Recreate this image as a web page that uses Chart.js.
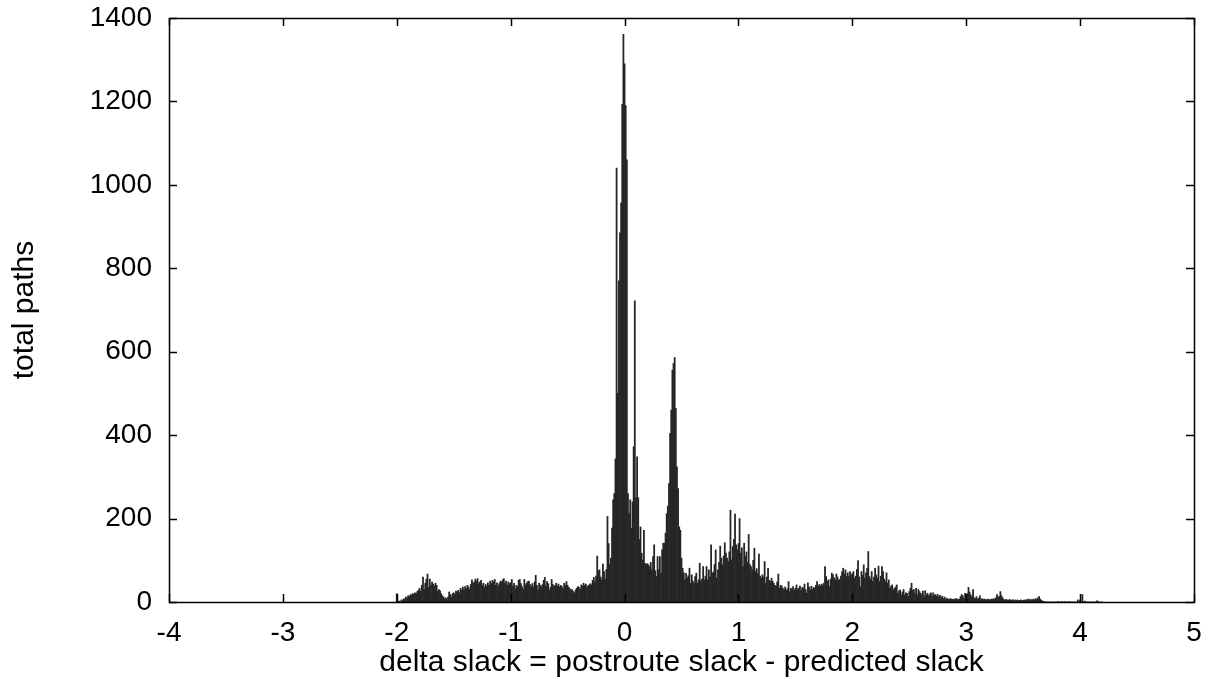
<!DOCTYPE html>
<html>
<head>
<meta charset="utf-8">
<title>delta slack histogram</title>
<script src="https://cdn.jsdelivr.net/npm/chart.js@4.4.1/dist/chart.umd.min.js"></script>
<style>
  html, body { margin: 0; padding: 0; background: #fff; }
  canvas { display: block; }
</style>
</head>
<body>
<canvas id="histChart" width="1212" height="679"></canvas>
<script>
// histogram bins: first bin centre and bin width (delta slack units)
const binStart = -2.0;
const binWidth = 0.01;

// path counts per bin, one row = 0.1 of delta slack
const counts = [
  20, 0, 2, 0, 5, 3, 8, 6, 12, 10,            // -2.0
  15, 13, 18, 16, 20, 19, 22, 20, 25, 28,     // -1.9
  33, 26, 40, 60, 30, 45, 55, 67, 35, 55,     // -1.8
  40, 48, 43, 38, 45, 40, 26, 30, 27, 20,     // -1.7
  15, 12, 8, 10, 6, 12, 24, 18, 12, 20,       // -1.6
  22, 18, 26, 24, 28, 22, 33, 28, 36, 30,     // -1.5
  37, 32, 40, 36, 30, 42, 53, 45, 48, 55,     // -1.4
  50, 56, 44, 48, 52, 40, 45, 35, 42, 38,     // -1.3
  46, 40, 50, 44, 52, 48, 54, 40, 46, 38,     // -1.2
  44, 50, 48, 53, 56, 45, 50, 40, 48, 44,     // -1.1
  46, 54, 38, 45, 32, 40, 37, 52, 54, 44,     // -1.0
  37, 30, 54, 41, 45, 49, 50, 42, 37, 44,     // -0.9
  36, 48, 64, 40, 29, 45, 40, 36, 42, 52,     // -0.8
  59, 38, 49, 44, 29, 35, 54, 42, 37, 40,     // -0.7
  45, 38, 43, 36, 40, 37, 32, 45, 40, 49,     // -0.6
  40, 35, 32, 28, 30, 25, 22, 29, 33, 37,     // -0.5
  35, 30, 41, 38, 45, 40, 43, 36, 39, 41,     // -0.4
  44, 41, 52, 59, 48, 62, 110, 75, 77, 60,    // -0.3
  53, 91, 73, 55, 78, 205, 140, 90, 105, 177, // -0.2
  245, 260, 343, 1040, 500, 770, 885, 957, 1193, 1361, // -0.1
  1290, 1190, 1060, 260, 212, 245, 177, 240, 372, 722, // 0.0
  250, 348, 250, 150, 180, 117, 100, 172, 93, 90,      // 0.1
  92, 89, 84, 95, 77, 109, 137, 75, 61, 109,  // 0.2
  77, 109, 69, 125, 141, 141, 165, 212, 230, 284, // 0.3
  404, 460, 556, 572, 586, 464, 324, 272, 180, 172, // 0.4
  105, 81, 70, 53, 69, 58, 63, 81, 45, 65,    // 0.5
  50, 45, 61, 69, 45, 53, 93, 50, 55, 85,     // 0.6
  53, 62, 85, 53, 77, 60, 137, 69, 72, 90,    // 0.7
  125, 57, 77, 95, 134, 105, 89, 110, 142, 117, // 0.8
  105, 97, 120, 220, 101, 133, 150, 211, 137, 125, // 0.9
  140, 200, 117, 130, 85, 141, 109, 120, 95, 162, // 1.0
  90, 85, 77, 100, 129, 73, 80, 69, 115, 62,  // 1.1
  57, 65, 60, 97, 45, 60, 81, 52, 49, 57,     // 1.2
  50, 45, 40, 38, 48, 67, 33, 40, 38, 33,     // 1.3
  30, 36, 28, 32, 49, 25, 33, 30, 37, 28,     // 1.4
  33, 41, 30, 33, 38, 28, 35, 33, 43, 30,     // 1.5
  21, 46, 36, 29, 38, 30, 35, 33, 40, 49,     // 1.6
  37, 42, 38, 43, 40, 45, 85, 61, 50, 53,     // 1.7
  37, 55, 69, 65, 58, 53, 67, 60, 53, 54,     // 1.8
  62, 73, 81, 68, 77, 61, 70, 61, 73, 65,     // 1.9
  68, 73, 57, 62, 78, 99, 60, 37, 73, 64,     // 2.0
  89, 57, 70, 81, 121, 61, 55, 73, 49, 60,    // 2.1
  81, 65, 58, 86, 49, 62, 85, 73, 55, 49,     // 2.2
  70, 45, 53, 33, 38, 41, 29, 33, 36, 41,     // 2.3
  21, 27, 29, 17, 24, 30, 17, 22, 21, 13,     // 2.4
  25, 33, 45, 28, 30, 21, 33, 17, 30, 25,     // 2.5
  21, 17, 26, 13, 27, 17, 21, 15, 19, 22,     // 2.6
  14, 22, 16, 18, 14, 18, 12, 16, 10, 14,     // 2.7
  8, 12, 6, 9, 7, 6, 8, 7, 6, 7,              // 2.8
  6, 8, 7, 6, 7, 13, 18, 15, 9, 21,           // 2.9
  15, 20, 35, 24, 17, 12, 30, 10, 8, 13,      // 3.0
  7, 9, 15, 6, 8, 6, 7, 6, 5, 7,              // 3.1
  6, 5, 7, 6, 8, 7, 10, 18, 12, 13,           // 3.2
  25, 15, 10, 6, 5, 6, 5, 4, 6, 5,            // 3.3
  4, 5, 3, 5, 4, 5, 3, 4, 5, 3,               // 3.4
  4, 5, 3, 6, 5, 7, 4, 6, 5, 7,               // 3.5
  5, 8, 6, 10, 13, 7, 4, 2, 1, 1,             // 3.6
  0, 0, 0, 0, 0, 0, 0, 0, 0, 0,               // 3.7
  0, 1, 0, 0, 1, 0, 0, 1, 0, 0,               // 3.8
  1, 0, 0, 0, 0, 0, 0, 0, 5, 0,               // 3.9
  5, 0, 18, 0, 2, 1, 0, 0, 0, 0,              // 4.0
  0, 0, 0, 0, 0, 3, 0, 0, 0, 0                // 4.1
];

const xRange = [-4, 5];
const yRange = [0, 1400];
const xTitle = 'delta slack = postroute slack - predicted slack';
const yTitle = 'total paths';

const points = counts.map((c, i) => ({ x: +(binStart + i * binWidth).toFixed(2), y: c }));

// gnuplot style frame with inward ticks on all four sides
const framePlugin = {
  id: 'frame',
  afterDatasetsDraw(chart) {
    const { ctx, chartArea: a, scales: { x, y } } = chart;
    const len = 8;
    ctx.save();
    ctx.strokeStyle = '#000';
    ctx.lineWidth = 1.5;
    ctx.beginPath();
    x.ticks.forEach(t => {
      const px = Math.round(x.getPixelForValue(t.value)) + 0.5;
      ctx.moveTo(px, a.bottom); ctx.lineTo(px, a.bottom - len);
      ctx.moveTo(px, a.top); ctx.lineTo(px, a.top + len);
    });
    y.ticks.forEach(t => {
      const py = Math.round(y.getPixelForValue(t.value)) + 0.5;
      ctx.moveTo(a.left, py); ctx.lineTo(a.left + len, py);
      ctx.moveTo(a.right, py); ctx.lineTo(a.right - len, py);
    });
    ctx.stroke();
    ctx.strokeRect(Math.round(a.left) + 0.5, Math.round(a.top) + 0.5,
                   Math.round(a.right - a.left), Math.round(a.bottom - a.top));
    ctx.restore();
  }
};

const titleFont = { family: "'Liberation Sans', Arial, sans-serif", size: 30 };
const tickFont = { family: "'Liberation Sans', Arial, sans-serif", size: 28 };
const plain = v => String(v);

new Chart(document.getElementById('histChart').getContext('2d'), {
  type: 'bar',
  data: {
    datasets: [{
      data: points,
      backgroundColor: '#262626',
      borderWidth: 0,
      barPercentage: 1,
      categoryPercentage: 1
    }]
  },
  options: {
    responsive: false,
    animation: false,
    layout: { padding: { top: 18, right: 18, left: 0, bottom: 0 } },
    plugins: { legend: { display: false }, tooltip: { enabled: false } },
    scales: {
      x: {
        type: 'linear',
        min: xRange[0],
        max: xRange[1],
        offset: false,
        grid: { display: false, drawTicks: false },
        border: { display: false },
        ticks: { stepSize: 1, color: '#000', font: tickFont, padding: 14, maxRotation: 0, callback: plain },
        title: { display: true, text: xTitle, color: '#000', font: titleFont, padding: { top: 0, bottom: -2 } },
        afterFit: s => { s.height = 77; s.paddingLeft = 0; s.paddingRight = 0; }
      },
      y: {
        min: yRange[0],
        max: yRange[1],
        grid: { display: false, drawTicks: false },
        border: { display: false },
        ticks: { stepSize: 200, color: '#000', font: tickFont, padding: 17, callback: plain },
        title: { display: true, text: yTitle, color: '#000', font: titleFont, padding: { top: 7, bottom: 0 } },
        afterFit: s => { s.width = 169; s.paddingTop = 0; s.paddingBottom = 0; }
      }
    }
  },
  plugins: [framePlugin]
});
</script>
</body>
</html>
